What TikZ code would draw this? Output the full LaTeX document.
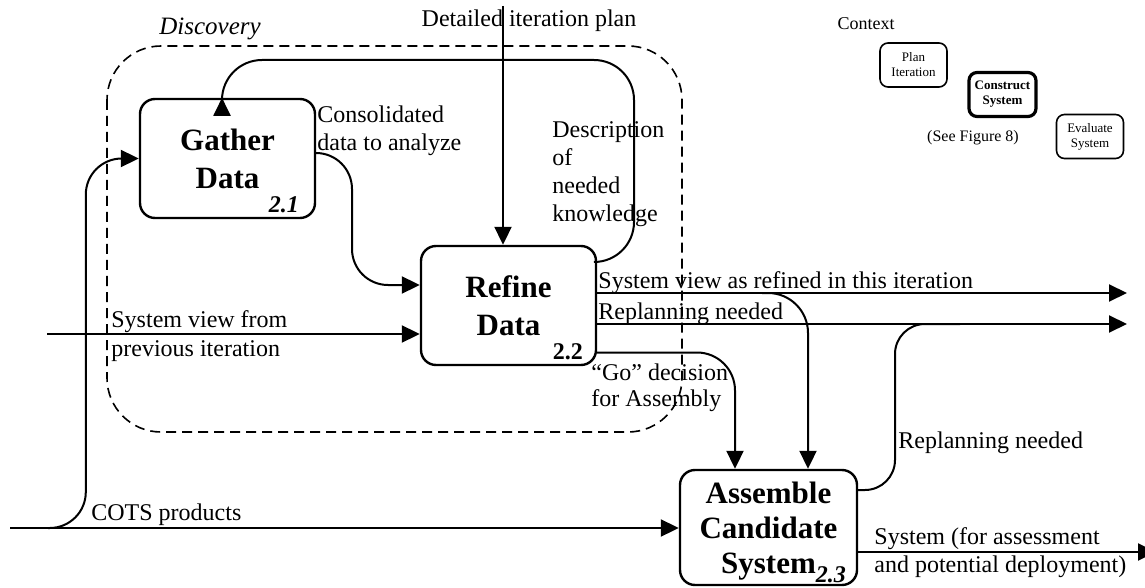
\documentclass[tikz,border=0pt]{standalone}
\usepackage{fontspec}
\setmainfont{Liberation Serif}
\usetikzlibrary{arrows.meta}

\begin{document}
\begin{tikzpicture}[x=0.5pt, y=-0.5pt,
  proc/.style={draw, line width=1.2pt, rounded corners=7.5pt, minimum width=87.5pt, minimum height=59.5pt, align=center, inner sep=2pt, text depth=-3pt, font=\fontsize{15.5}{19}\selectfont\bfseries},
  flow/.style={line width=1pt, -{Triangle[length=9pt,width=8.5pt]}},
  lbl/.style={font=\fontsize{12}{14}\selectfont, align=left, inner sep=0pt},
  num/.style={font=\fontsize{12}{14}\selectfont\bfseries\itshape, inner sep=0pt},
  ctx/.style={draw, line width=0.8pt, rounded corners=4pt, minimum width=33.5pt, minimum height=22pt, align=center, inner sep=1pt, font=\fontsize{6.5}{7.5}\selectfont}]
 	\useasboundingbox (0,0) rectangle (1145,588);
 	\draw[line width=0.8pt, dash pattern=on 5pt off 3pt, rounded corners=27pt] (107,46) rectangle (682,432);
 	\node[font=\fontsize{12.5}{14}\selectfont\itshape] (discovery) at (210,29) {Discovery};
 	\node[proc] (gather) at (227.5,158.5) {Gather\\Data};
 	\node[proc] (refine) at (508.5,305.5) {Refine\\Data};
 	\node[proc, minimum width=88.5pt, minimum height=57.5pt, inner ysep=0.5pt, text depth=-3.6pt, font=\fontsize{15.5}{17.5}\selectfont\bfseries] (assemble) at (768.5,527.5) {Assemble\\Candidate\\System};
 	\node[num, anchor=base east] (n21) at ([shift={(-8.5pt,3.5pt)}]gather.south east) {2.1};
 	\node[num, font=\fontsize{12}{14}\selectfont\bfseries, anchor=base east] (n22) at ([shift={(-7pt,3.5pt)}]refine.south east) {2.2};
 	\node[num, anchor=base east] (n23) at ([shift={(-6pt,2pt)}]assemble.south east) {2.3};
 	\node[lbl] (planlbl) at (529,21) {Detailed iteration plan};
 	\node[lbl, anchor=west] (conslbl) at (317,131) {Consolidated\\data to analyze};
 	\node[lbl, anchor=west] (desclbl) at (552,174) {Description\\of\\needed\\knowledge};
 	\node[lbl, anchor=west, font=\fontsize{12}{14.5}\selectfont] (prevlbl) at (111,336) {System view from\\previous iteration};
 	\node[lbl, anchor=west] (cotslbl) at (91,515) {COTS products};
 	\node[lbl, anchor=base west] (refinedlbl) at (598,288) {System view as refined in this iteration};
 	\node[lbl, anchor=base west] (replanlbl) at (598,319) {Replanning needed};
 	\node[lbl, anchor=west, font=\fontsize{12}{13}\selectfont] (golbl) at (591,388) {“Go” decision\\for Assembly};
 	\node[lbl, anchor=west] (replanlblb) at (898,443) {Replanning needed};
 	\node[lbl, anchor=west] (syslbl) at (874,553) {System (for assessment\\and potential deployment)};
 	\node[font=\fontsize{9}{10}\selectfont] (ctxlbl) at (866,24) {Context};
 	\node[ctx] (planit) at (913.5,65) {Plan\\Iteration};
 	\node[ctx, line width=1.6pt, font=\fontsize{6.5}{7.5}\selectfont\bfseries] (construct) at (1002.5,94.5) {Construct\\System};
 	\node[font=\fontsize{8}{9}\selectfont] (seefig) at (973,138) {(See Figure 8)};
 	\node[ctx] (evaluate) at (1090,136.5) {Evaluate\\System};
 	\coordinate (plansrc) at (503,6);
 	\coordinate (prevsrc) at (47,334);
 	\coordinate (cotssrc) at (10,528);
 	\coordinate (cotsfork) at (48,528);
 	\coordinate (refinedout) at (1127,293);
 	\coordinate (refinedfork) at (762,293);
 	\coordinate (replanout) at (1127,324);
 	\coordinate (replanjoin) at (960,324);
 	\coordinate (sysout) at (1156,552);
 	\draw[flow] (plansrc) -- (plansrc |- refine.north);
 	\draw[flow, rounded corners=20pt] ([yshift=21.75pt]refine.east) -| (634,60) -| ([xshift=-2.75pt]gather.north);
 	\draw[flow, rounded corners=18pt] ([yshift=2.75pt]gather.east) -| (352,285) -- ([yshift=10.25pt]refine.west);
 	\draw[flow] (prevsrc) -- (prevsrc -| refine.west);
 	\draw[flow] (cotssrc) -- (cotssrc -| assemble.west);
 	\draw[flow, rounded corners=18pt] (cotsfork) -| ([xshift=-26.5pt]gather.west) -- (gather.west);
 	\draw[flow] ([yshift=6.25pt]refine.east) -- (refinedout);
 	\draw[flow, rounded corners=20pt] (refinedfork) -| ([xshift=19.75pt]assemble.north);
 	\draw[flow] ([yshift=-9.25pt]refine.east) -- (replanout);
 	\draw[flow, rounded corners=19pt] ([yshift=-23.5pt]refine.east) -| ([xshift=-16.75pt]assemble.north);
 	\draw[line width=1pt, rounded corners=15pt] ([yshift=18.75pt]assemble.east) -| (895,324) -- (replanjoin);
 	\draw[flow] ([yshift=-12.25pt]assemble.east) -- (sysout);
\end{tikzpicture}
\end{document}
